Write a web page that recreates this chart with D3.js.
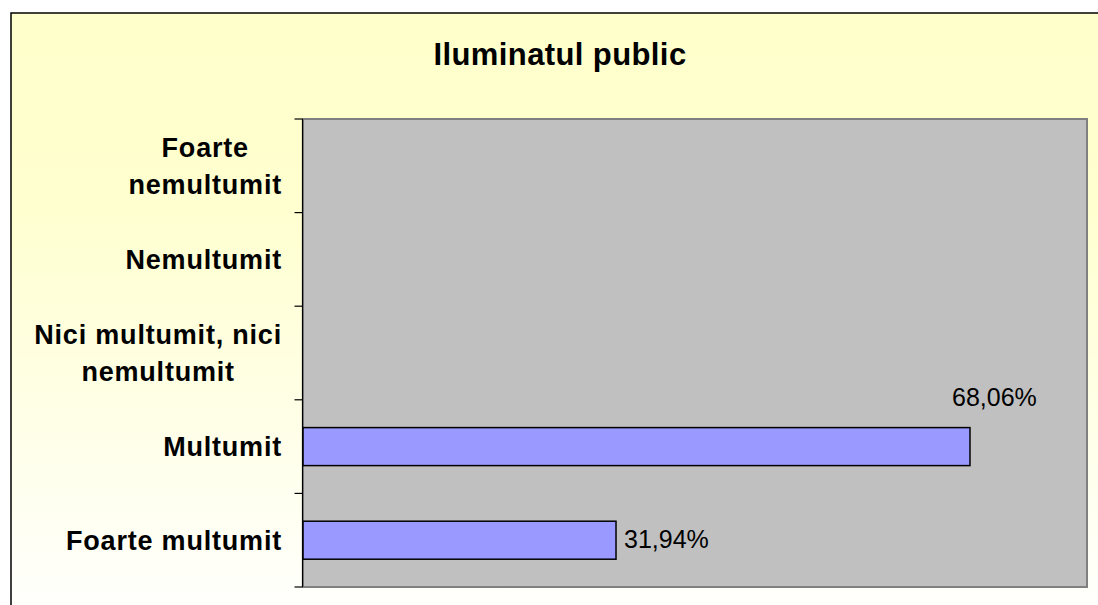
<!DOCTYPE html>
<html>
<head>
<meta charset="utf-8">
<script src="https://cdn.jsdelivr.net/npm/d3@7"></script>
<style>
  html, body { margin: 0; padding: 0; background: #ffffff; }
  svg { display: block; font-family: Arial, "Liberation Sans", sans-serif; }
</style>
</head>
<body>
<svg id="chart" width="1098" height="605"></svg>
<script>
const title = "Iluminatul public";
const categories = ["Foarte nemultumit", "Nemultumit", "Nici multumit, nici nemultumit", "Multumit", "Foarte multumit"];
const categoryLines = [["Foarte", "nemultumit"], ["Nemultumit"], ["Nici multumit, nici", "nemultumit"], ["Multumit"], ["Foarte multumit"]];
const values = [0, 0, 0, 68.06, 31.94];
const valueLabels = ["", "", "", "68,06%", "31,94%"];
const xMax = 80;

const svg = d3.select("#chart");

const defs = svg.append("defs");
const grad = defs.append("linearGradient").attr("id", "bg")
  .attr("x1", "0").attr("y1", "0").attr("x2", "0").attr("y2", "1");
grad.append("stop").attr("offset", "0").attr("stop-color", "#FFFFCC");
grad.append("stop").attr("offset", "0.3").attr("stop-color", "#FFFFCF");
grad.append("stop").attr("offset", "1").attr("stop-color", "#FFFFFF");

// chart area (extends beyond viewport right/bottom)
svg.append("rect")
  .attr("x", 11).attr("y", 13).attr("width", 1110).attr("height", 620)
  .attr("fill", "url(#bg)").attr("stroke", "#000").attr("stroke-width", 1.5);

const plot = { left: 303, top: 119, right: 1087, bottom: 587 };

const x = d3.scaleLinear().domain([0, xMax]).range([plot.left, plot.right]);
const y = d3.scaleBand().domain(categories).range([plot.top, plot.bottom]).paddingInner(0.594).paddingOuter(0.297);
const yTicks = d3.scaleBand().domain(categories).range([plot.top, plot.bottom]);

// plot area
svg.append("rect")
  .attr("x", plot.left).attr("y", plot.top)
  .attr("width", plot.right - plot.left).attr("height", plot.bottom - plot.top)
  .attr("fill", "#C0C0C0").attr("stroke", "#808080").attr("stroke-width", 2);

// title
svg.append("text")
  .attr("x", 560).attr("y", 65)
  .attr("text-anchor", "middle")
  .attr("font-size", 31).attr("font-weight", "bold").attr("fill", "#000")
  .attr("letter-spacing", 0.4)
  .text(title);

// bars
svg.append("g").selectAll("rect")
  .data(categories.map((c, i) => ({ c, v: values[i], i })).filter(d => d.v > 0))
  .join("rect")
  .attr("x", x(0))
  .attr("y", d => y(d.c))
  .attr("width", d => x(d.v) - x(0))
  .attr("height", y.bandwidth())
  .attr("fill", "#9999FF")
  .attr("stroke", "#000").attr("stroke-width", 1.5);

// value labels
categories.forEach((c, i) => {
  if (!valueLabels[i]) return;
  const t = svg.append("text")
    .attr("font-size", 25).attr("fill", "#000")
    .text(valueLabels[i]);
  if (c === "Multumit") {
    t.attr("x", x(values[i]) - 18).attr("y", y(c) - 22);
  } else {
    t.attr("x", x(values[i]) + 8).attr("y", y(c) + y.bandwidth() / 2 + 8);
  }
});

// y axis line and ticks
const axisG = svg.append("g").attr("transform", `translate(${plot.left - 0.5},0)`);
axisG.append("line")
  .attr("x1", 0).attr("x2", 0).attr("y1", plot.top).attr("y2", plot.bottom)
  .attr("stroke", "#000").attr("stroke-width", 1.2);
const tickYs = categories.map(c => yTicks(c)).concat([plot.bottom]);
axisG.selectAll("line.tick").data(tickYs).join("line")
  .attr("class", "tick")
  .attr("x1", -8).attr("x2", 0)
  .attr("y1", d => d).attr("y2", d => d)
  .attr("stroke", "#000").attr("stroke-width", 1.2);

// category labels: block right-aligned, lines centered within block
const lineH = 37;
const labelRight = 282;
categories.forEach((c, i) => {
  const lines = categoryLines[i];
  const cy = yTicks(c) + yTicks.bandwidth() / 2;
  const g = svg.append("g");
  const texts = lines.map((ln, j) => g.append("text")
    .attr("font-size", 27).attr("font-weight", "bold").attr("fill", "#000")
    .attr("letter-spacing", 0.8)
    .attr("text-anchor", "middle")
    .attr("y", cy + 9.5 + (j - (lines.length - 1) / 2) * lineH)
    .text(ln));
  const widths = texts.map(t => t.node().getComputedTextLength());
  const maxW = Math.max(...widths);
  texts.forEach(t => t.attr("x", labelRight - maxW / 2));
});
</script>
</body>
</html>
